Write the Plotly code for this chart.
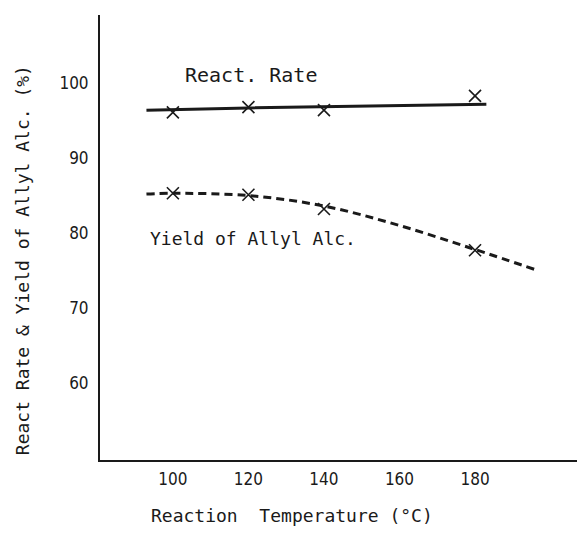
import plotly.graph_objects as go

# Data
temps = [100, 120, 140, 180]
react_rate = [96.1, 96.8, 96.4, 98.3]
yield_allyl = [85.3, 85.1, 83.2, 77.7]

# fitted / drawn curves
rate_line_x = [93, 120, 183]
rate_line_y = [96.4, 96.7, 97.2]
yield_line_x = [93, 100, 120, 140, 160, 180, 196]
yield_line_y = [85.2, 85.3, 85.0, 83.6, 81.0, 77.8, 75.1]

x_ticks = [100, 120, 140, 160, 180]
y_ticks = [60, 70, 80, 90, 100]

INK = "#1a1a1a"
MONO = "DejaVu Sans Mono"
NUM = "Liberation Sans Narrow, DejaVu Sans Condensed, DejaVu Sans"

fig = go.Figure()
fig.add_trace(go.Scatter(x=rate_line_x, y=rate_line_y, mode="lines",
                         line=dict(color=INK, width=3), showlegend=False))
fig.add_trace(go.Scatter(x=yield_line_x, y=yield_line_y, mode="lines",
                         line=dict(color=INK, width=3, dash="8px,5px", shape="spline"),
                         showlegend=False))
fig.add_trace(go.Scatter(x=temps, y=react_rate, mode="markers",
                         marker=dict(symbol="x-thin", size=12, line=dict(color=INK, width=1.6)),
                         showlegend=False))
fig.add_trace(go.Scatter(x=temps, y=yield_allyl, mode="markers",
                         marker=dict(symbol="x-thin", size=12, line=dict(color=INK, width=1.6)),
                         showlegend=False))

fig.add_annotation(x=102.6, y=101.1, text="React. Rate", showarrow=False,
                   xanchor="left", yanchor="middle",
                   font=dict(family=MONO, size=20, color=INK))
fig.add_annotation(x=93.4, y=79.3, text="Yield of Allyl Alc.", showarrow=False,
                   xanchor="left", yanchor="middle",
                   font=dict(family=MONO, size=18, color=INK))

fig.add_annotation(xref="paper", yref="paper", x=-0.1635, y=0.449,
                   text="React Rate & Yield of Allyl Alc. (%)", textangle=-90,
                   showarrow=False, xanchor="center", yanchor="middle",
                   font=dict(family=MONO, size=18, color=INK))
fig.add_annotation(xref="paper", yref="paper", x=0.4025, y=-0.1236,
                   text="Reaction\u00a0 Temperature (°C)",
                   showarrow=False, xanchor="center", yanchor="middle",
                   font=dict(family=MONO, size=18, color=INK))

fig.update_xaxes(range=[80.7, 207], tickvals=x_ticks, showgrid=False, zeroline=False,
                 showline=True, linecolor=INK, linewidth=2,
                 ticks="outside", ticklen=3, tickcolor="white",
                 tickfont=dict(family=NUM, size=17, color=INK))
fig.update_yaxes(range=[49.7, 109.1], tickvals=y_ticks, showgrid=False, zeroline=False,
                 showline=True, linecolor=INK, linewidth=2,
                 ticks="outside", ticklen=6, tickcolor="white",
                 tickfont=dict(family=NUM, size=17, color=INK))

fig.update_layout(width=577, height=533, margin=dict(l=100, r=0, t=15, b=73),
                  paper_bgcolor="white", plot_bgcolor="white")

fig.write_html("out.html")
